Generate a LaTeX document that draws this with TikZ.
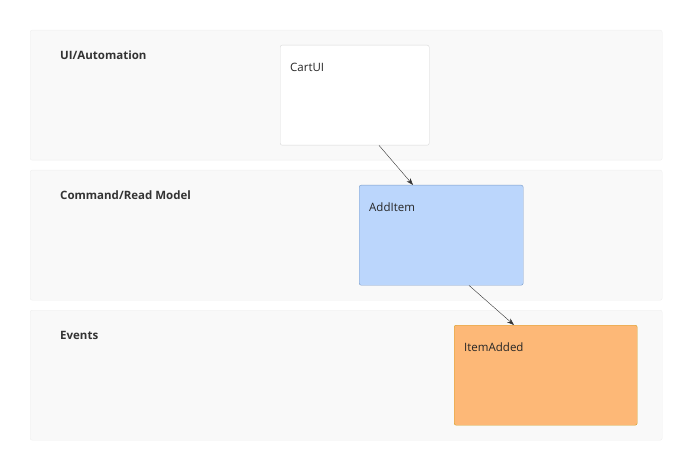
\documentclass[tikz,border=0pt]{standalone}
\usepackage{fontspec}
\setmainfont{Open Sans}
\usetikzlibrary{positioning,calc,arrows.meta}
\definecolor{lanefill}{HTML}{F9F9F9}
\definecolor{laneline}{HTML}{EEEEEE}
\definecolor{cmdfill}{HTML}{BBD6FC}
\definecolor{cmdline}{HTML}{7A9CC8}
\definecolor{evtfill}{HTML}{FDB877}
\definecolor{evtline}{HTML}{D4A020}
\tikzset{
 lane/.style={draw=laneline, fill=lanefill, rounded corners=2pt, minimum width=632pt, minimum height=130pt, anchor=north west},
 lanelabel/.style={anchor=west, inner sep=0pt, font=\bfseries\fontsize{11.5pt}{13pt}\selectfont, text=black!80},
 box/.style={draw, rounded corners=2pt, minimum height=100pt, anchor=north west},
 boxlabel/.style={anchor=west, inner sep=0pt, font=\fontsize{11.5pt}{13pt}\selectfont, text=black!85},
 flow/.style={-{Stealth[length=7pt,width=5pt]}, thin, black!80}
}
\begin{document}
\begin{tikzpicture}[x=1pt, y=-1pt]
 \useasboundingbox (0,0) rectangle (692,470);
 % swimlanes
 \node[lane] (ui) at (30,30) {};
 \node[lane] (cmd) at (30,170) {};
 \node[lane] (evt) at (30,310) {};
 \node[lanelabel] at (60,55) {UI/Automation};
 \node[lanelabel] at (60,195) {Command/Read Model};
 \node[lanelabel] at (60,335) {Events};
 % elements
 \node[box, draw=black!15, fill=white, minimum width=149pt] (cartui) at (280,45) {};
 \node[box, draw=cmdline, fill=cmdfill, minimum width=164pt] (additem) at (359,185) {};
 \node[box, draw=evtline, fill=evtfill, minimum width=183pt] (itemadded) at (454,325) {};
 \node[boxlabel] at (290,67) {CartUI};
 \node[boxlabel] at (369,207) {AddItem};
 \node[boxlabel] at (464,347) {ItemAdded};
 % flows
 \coordinate (c1) at ($(cartui.south west)+(99,0)$);
 \coordinate (c2) at ($(additem.north west)+(54,0)$);
 \coordinate (c3) at ($(additem.south west)+(110,0)$);
 \coordinate (c4) at ($(itemadded.north west)+(60,0)$);
 \draw[flow] (c1) -- (c2);
 \draw[flow] (c3) -- (c4);
\end{tikzpicture}
\end{document}
